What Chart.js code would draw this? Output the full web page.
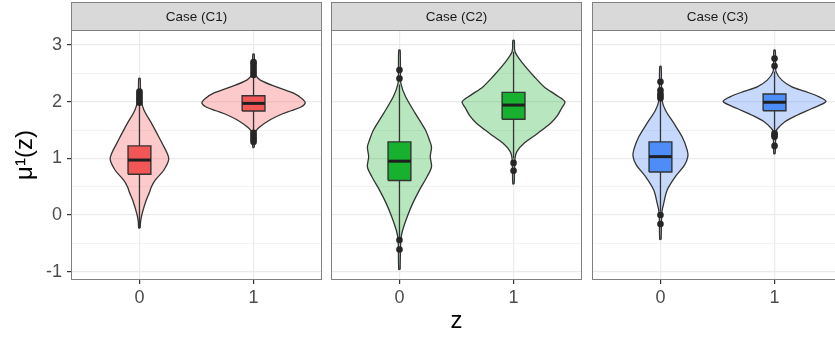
<!DOCTYPE html>
<html>
<head>
<meta charset="utf-8">
<script src="https://cdn.jsdelivr.net/npm/chart.js@4.4.1/dist/chart.umd.min.js"></script>
<style>
  html, body { margin: 0; padding: 0; background: #fff; overflow: hidden; }
  #wrap { position: relative; width: 835px; height: 337px; overflow: hidden; }
  .panel { position: absolute; top: 0; }
</style>
</head>
<body>
<div id="wrap">
  <canvas id="c1" class="panel" width="326" height="337" style="left:0px"></canvas>
  <canvas id="c2" class="panel" width="260" height="337" style="left:326px"></canvas>
  <canvas id="c3" class="panel" width="260" height="337" style="left:587px"></canvas>
</div>
<script>
// ---- data ----
const caseLabels = ['Case (C1)', 'Case (C2)', 'Case (C3)'];
const zLevels = [0, 1];
const zTickLabels = ['0', '1'];
const yTickValues = [-1, -0.5, 0, 0.5, 1, 1.5, 2, 2.5, 3];

// violin profiles: [mu value, density half width]
const c1z0Violin = [[-0.23,0.006],[-0.1,0.011],[0.03,0.024],[0.26,0.059],[0.4,0.088],[0.5,0.105],[0.62,0.14],[0.79,0.213],[0.98,0.257],[1.09,0.243],[1.265,0.199],[1.4,0.164],[1.6,0.111],[1.85,0.04],[2.0,0.018],[2.2,0.009],[2.41,0.006]];
const c1z1Violin = [[1.19,0.006],[1.3,0.009],[1.47,0.018],[1.56,0.059],[1.68,0.146],[1.765,0.23],[1.84,0.33],[1.91,0.42],[1.98,0.453],[2.06,0.42],[2.15,0.35],[2.26,0.2],[2.38,0.059],[2.47,0.018],[2.6,0.009],[2.84,0.006]];
const c2z0Violin = [[-0.96,0.006],[-0.6,0.009],[-0.41,0.013],[-0.26,0.029],[-0.03,0.068],[0.21,0.117],[0.44,0.175],[0.68,0.243],[0.85,0.281],[1.03,0.27],[1.2,0.281],[1.32,0.263],[1.5,0.228],[1.79,0.14],[2.09,0.053],[2.32,0.013],[2.5,0.009],[2.91,0.006]];
const c2z1Violin = [[0.55,0.006],[0.8,0.009],[1.0,0.013],[1.12,0.029],[1.27,0.094],[1.44,0.21],[1.62,0.325],[1.76,0.386],[1.88,0.42],[2.0,0.45],[2.12,0.371],[2.26,0.269],[2.44,0.182],[2.68,0.079],[2.88,0.013],[3.08,0.006]];
const c3z0Violin = [[-0.43,0.006],[-0.1,0.009],[0.06,0.013],[0.21,0.029],[0.44,0.059],[0.68,0.132],[0.88,0.211],[1.03,0.24],[1.15,0.234],[1.38,0.19],[1.62,0.117],[1.85,0.044],[2.03,0.013],[2.3,0.009],[2.62,0.006]];
const c3z1Violin = [[1.08,0.006],[1.3,0.009],[1.47,0.013],[1.53,0.029],[1.65,0.094],[1.76,0.196],[1.88,0.327],[2.0,0.45],[2.09,0.386],[2.18,0.269],[2.26,0.152],[2.38,0.064],[2.53,0.013],[2.7,0.009],[2.91,0.006]];

// box stats: [lower whisker, q1, median, q3, upper whisker]
const c1z0Box = [-0.23, 0.72, 0.97, 1.22, 1.95];
const c1z1Box = [1.47, 1.835, 1.97, 2.105, 2.45];
const c2z0Box = [-0.4, 0.61, 0.95, 1.29, 2.3];
const c2z1Box = [1.0, 1.69, 1.94, 2.165, 2.88];
const c3z0Box = [0.06, 0.76, 1.03, 1.29, 2.03];
const c3z1Box = [1.47, 1.84, 1.99, 2.135, 2.53];

// outliers
const c1z0Out = [1.98, 2.02, 2.06, 2.1, 2.14, 2.18];
const c1z1Out = [1.29, 1.33, 1.37, 1.41, 1.45, 2.47, 2.52, 2.57, 2.62, 2.67, 2.7];
const c2z0Out = [-0.61, -0.44, 2.41, 2.56];
const c2z1Out = [0.78, 0.92];
const c3z0Out = [-0.16, 0.0, 2.06, 2.1, 2.14, 2.2, 2.35];
const c3z1Out = [1.22, 1.38, 1.41, 1.44, 2.63, 2.76];

const violinFills = ['rgba(245,100,100,0.34)', 'rgba(25,175,45,0.31)', 'rgba(70,130,245,0.31)'];
const boxFills = ['#F25757', '#17B12F', '#4D8DF7'];

const panels = [
  { violins: [c1z0Violin, c1z1Violin], boxes: [c1z0Box, c1z1Box], outliers: [c1z0Out, c1z1Out] },
  { violins: [c2z0Violin, c2z1Violin], boxes: [c2z0Box, c2z1Box], outliers: [c2z0Out, c2z1Out] },
  { violins: [c3z0Violin, c3z1Violin], boxes: [c3z0Box, c3z1Box], outliers: [c3z0Out, c3z1Out] }
];

const FONT = '"Liberation Sans", Arial, Helvetica, sans-serif';
const BOX_HW = 0.1;
const DARK = '#333333';

// Function to build violin outline (right side up, left side down)
function violinPoints(center, profile) {
  const right = profile.map(p => ({ x: center + p[1], y: p[0] }));
  const left = profile.slice().reverse().map(p => ({ x: center - p[1], y: p[0] }));
  const pts = right.concat(left);
  pts.push(pts[0]);
  return pts;
}

function buildDatasets(p, idx) {
  const sets = [];
  zLevels.forEach((z, g) => {
    const b = p.boxes[g];
    sets.push({
      data: violinPoints(z, p.violins[g]),
      showLine: true, fill: 'shape', tension: 0.3,
      backgroundColor: violinFills[idx], borderColor: DARK, borderWidth: 1.3,
      pointRadius: 0, order: 5
    });
    sets.push({
      data: [{ x: z, y: b[0] }, { x: z, y: b[4] }],
      showLine: true, borderColor: DARK, borderWidth: 1.3, pointRadius: 0, order: 4
    });
    sets.push({
      data: [{ x: z - BOX_HW, y: b[1] }, { x: z + BOX_HW, y: b[1] }, { x: z + BOX_HW, y: b[3] },
             { x: z - BOX_HW, y: b[3] }, { x: z - BOX_HW, y: b[1] }],
      showLine: true, fill: 'shape', tension: 0,
      backgroundColor: boxFills[idx], borderColor: DARK, borderWidth: 1.4, pointRadius: 0, order: 3
    });
    sets.push({
      data: [{ x: z - BOX_HW, y: b[2] }, { x: z + BOX_HW, y: b[2] }],
      showLine: true, borderColor: '#1F1F1F', borderWidth: 3, pointRadius: 0, order: 2
    });
    sets.push({
      data: p.outliers[g].map(v => ({ x: z, y: v })),
      showLine: false, pointRadius: 3.3, backgroundColor: '#262626', borderWidth: 0, order: 1
    });
  });
  return sets;
}

// strip + panel border
const stripPlugin = {
  id: 'strip',
  afterDraw(chart, args, opts) {
    const { ctx, chartArea: a } = chart;
    ctx.save();
    ctx.fillStyle = '#D9D9D9';
    ctx.fillRect(a.left, 2, a.right - a.left, a.top - 2);
    ctx.strokeStyle = '#808080';
    ctx.lineWidth = 1;
    ctx.strokeRect(a.left + 0.5, 2.5, a.right - a.left - 1, a.top - 2);
    ctx.strokeRect(a.left + 0.5, a.top + 0.5, a.right - a.left - 1, a.bottom - a.top - 1);
    ctx.fillStyle = '#1A1A1A';
    ctx.font = '13.5px ' + FONT;
    ctx.textAlign = 'center';
    ctx.textBaseline = 'middle';
    ctx.fillText(opts.label, (a.left + a.right) / 2, (2 + a.top) / 2 + 1);
    ctx.restore();
  }
};

function makeChart(canvasId, idx) {
  const first = idx === 0;
  return new Chart(document.getElementById(canvasId), {
    type: 'scatter',
    data: { datasets: buildDatasets(panels[idx], idx) },
    plugins: [stripPlugin],
    options: {
      responsive: false,
      animation: false,
      devicePixelRatio: 1,
      layout: { padding: { top: 30, right: 4, left: 0, bottom: 0 } },
      plugins: { legend: { display: false }, tooltip: { enabled: false }, strip: { label: caseLabels[idx] } },
      scales: {
        x: {
          type: 'linear', min: -0.6, max: 1.6,
          afterBuildTicks: s => { s.ticks = zLevels.map(v => ({ value: v })); },
          afterFit: s => { s.height = 57; },
          border: { display: false },
          grid: { color: '#EBEBEB', lineWidth: 1.2, drawTicks: true, tickLength: 4, tickColor: DARK, tickWidth: 1.2 },
          ticks: {
            callback: v => zTickLabels[zLevels.indexOf(v)],
            font: { size: 18, family: FONT }, color: '#4D4D4D', padding: 3, maxRotation: 0, autoSkip: false
          },
          title: { display: idx === 1, text: 'z', font: { size: 24, family: FONT }, color: '#000', padding: { top: 0, bottom: 1 } }
        },
        y: {
          type: 'linear', min: -1.147, max: 3.265,
          afterBuildTicks: s => { s.ticks = yTickValues.map(v => ({ value: v })); },
          afterFit: s => { s.width = first ? 71 : 5; },
          border: { display: false },
          grid: {
            color: '#EBEBEB',
            lineWidth: c => Number.isInteger(c.tick.value) ? 1.2 : 0.6,
            drawTicks: first, tickLength: 4, tickWidth: 1.2,
            tickColor: c => Number.isInteger(c.tick.value) ? DARK : 'rgba(0,0,0,0)'
          },
          ticks: {
            display: first,
            callback: v => Number.isInteger(v) ? String(v) : '',
            font: { size: 18, family: FONT }, color: '#4D4D4D', padding: 5, autoSkip: false
          },
          title: { display: first, text: 'μ¹(z)', font: { size: 24, family: FONT }, color: '#000', padding: { top: 11, bottom: 0 } }
        }
      }
    }
  });
}

makeChart('c1', 0);
makeChart('c2', 1);
makeChart('c3', 2);
</script>
</body>
</html>
